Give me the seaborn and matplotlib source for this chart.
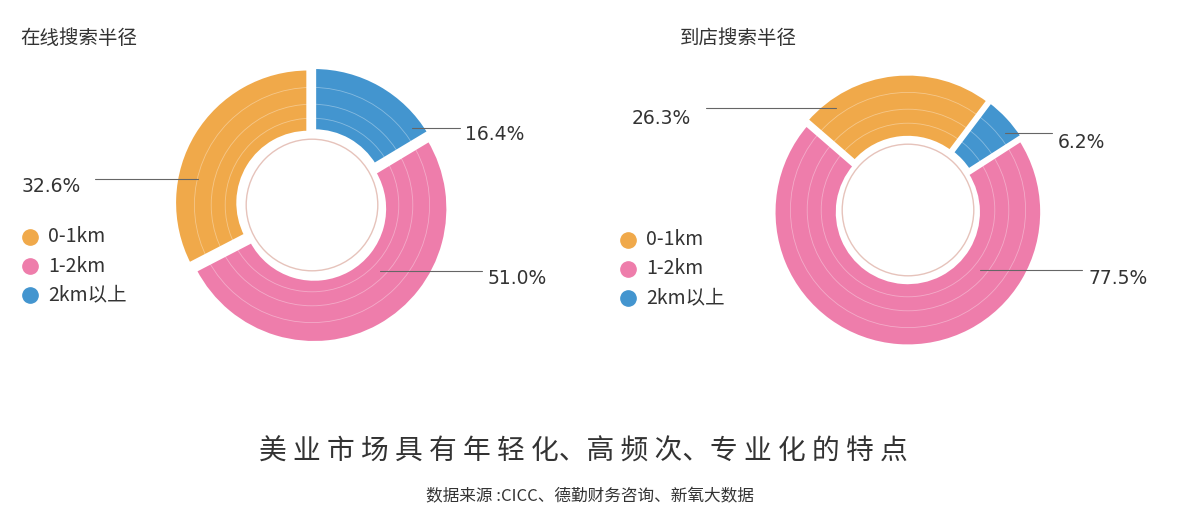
import matplotlib.pyplot as plt
import seaborn as sns
from matplotlib.lines import Line2D
from matplotlib.patches import Circle

sns.set_theme(style="white")
plt.rcParams["font.family"] = "Noto Sans CJK SC"

categories = ["2km以上", "1-2km", "0-1km"]
online_values = [16.4, 51.0, 32.6]
store_values = [6.2, 77.5, 26.3]
legend_order = ["0-1km", "1-2km", "2km以上"]
colors = {"0-1km": "#F0A94A", "1-2km": "#EE7DAB", "2km以上": "#4395CF"}

W, H = 1193, 525
fig = plt.figure(figsize=(W / 100, H / 100), dpi=100)
fig.patch.set_facecolor("white")


def px(x, y):
    return x / W, 1 - y / H


def donut(cx, cy, values, start, explode):
    r = 140
    x0, y0 = px(cx - r, cy + r)
    ax = fig.add_axes([x0, y0, 2 * r / W, 2 * r / H])
    ax.pie(values, colors=[colors[c] for c in categories], startangle=start,
           counterclock=False, explode=[explode] * 3, radius=0.96,
           wedgeprops=dict(width=0.46, edgecolor="white", linewidth=3))
    for rr in (0.62, 0.72, 0.84):
        ax.add_patch(Circle((0, 0), rr, fill=False, ec="white", lw=0.6, alpha=0.35))
    ax.add_patch(Circle((0, 0), 0.47, fill=False, ec="#e6c3bb", lw=1))
    ax.set_xlim(-1, 1)
    ax.set_ylim(-1, 1)
    ax.set_aspect("equal")
    ax.axis("off")


donut(312, 205, online_values, 90, 0.03)
donut(908, 210, store_values, 53, 0.015)


def label(text, tx, ty, x1, x2, ly):
    fig.add_artist(Line2D([x1 / W, x2 / W], [1 - ly / H] * 2, color="#666666", lw=0.8))
    fig.text(tx / W, 1 - ty / H, text, ha="left", va="center", fontsize=13.5, color="#333333",
             family="DejaVu Sans")


label("16.4%", 465, 135, 412, 460, 128)
label("51.0%", 488, 278, 380, 482, 271)
label("32.6%", 22, 186, 95, 198, 179)
label("26.3%", 632, 118, 706, 836, 108)
label("6.2%", 1058, 142, 1005, 1052, 133)
label("77.5%", 1088, 278, 980, 1082, 270)

for lx, ly0 in ((30, 237), (628, 240)):
    for i, name in enumerate(legend_order):
        y = ly0 + i * 29
        fig.add_artist(Line2D([lx / W], [1 - y / H], marker="o", markersize=11,
                              color=colors[name], lw=0))
        fig.text((lx + 18) / W, 1 - y / H, name, va="center", fontsize=14, color="#333333")

fig.text(20 / W, 1 - 38 / H, "在线搜索半径", va="center", fontsize=14, color="#333333")
fig.text(680 / W, 1 - 38 / H, "到店搜索半径", va="center", fontsize=14, color="#333333")
fig.text(583 / W, 1 - 452 / H, "美 业 市 场 具 有 年 轻 化、高 频 次、专 业 化 的 特 点", ha="center",
         va="center", fontsize=20, color="#333333")
fig.text(590 / W, 1 - 497 / H, "数据来源 :CICC、德勤财务咨询、新氧大数据", ha="center",
         va="center", fontsize=12, color="#333333")

fig.savefig("out.png", dpi=100, facecolor="white")
